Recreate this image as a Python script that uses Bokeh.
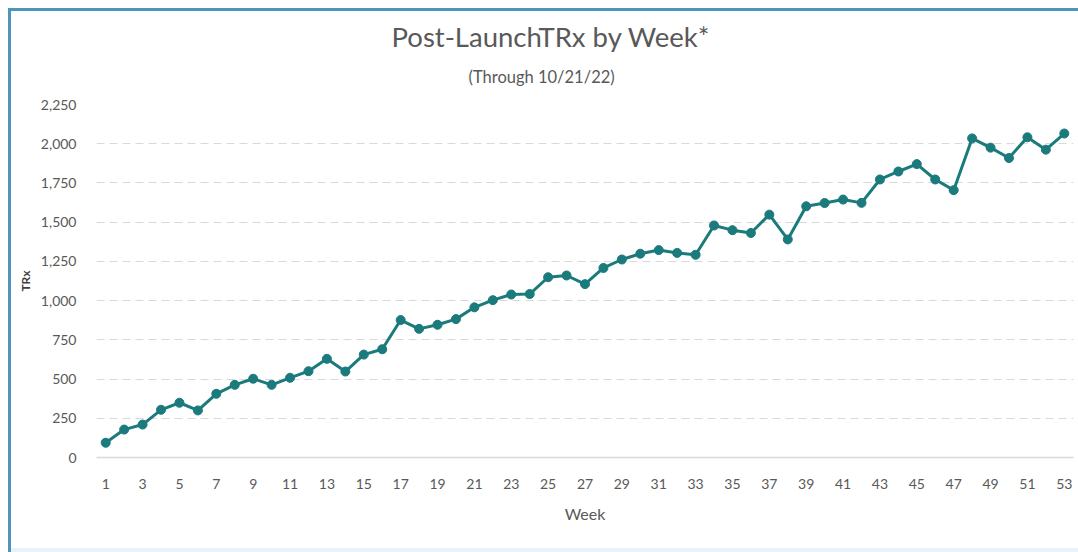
from bokeh.plotting import figure
from bokeh.models import FixedTicker, NumeralTickFormatter, Range1d, Title
from bokeh.embed import file_html
from bokeh.resources import INLINE

# ---- data ----
weeks = list(range(1, 54))
trx = [94, 178, 210, 304, 349, 300, 406, 463, 502, 463,
       508, 550, 629, 548, 656, 690, 876, 820, 846, 882,
       957, 1003, 1039, 1042, 1149, 1160, 1105, 1208, 1262, 1299,
       1322, 1304, 1292, 1479, 1449, 1431, 1548, 1390, 1601, 1622,
       1644, 1623, 1772, 1823, 1870, 1772, 1704, 2034, 1975, 1909,
       2041, 1962, 2065]
x_tick_weeks = weeks[::2]
y_ticks = [0, 250, 500, 750, 1000, 1250, 1500, 1750, 2000, 2250]
title_text = "Post-LaunchTRx by Week*"
subtitle_text = "(Through 10/21/22)"
x_label = "Week"
y_label = "TRx"

FONT = "Lato"
TEAL = "#1b7a7c"
GRAY = "#595959"
BORDER = "#4d96b9"

p = figure(width=1078, height=552, output_backend="svg", toolbar_location=None,
           x_range=Range1d(0.5, 53.5), y_range=Range1d(0, 2250))
p.min_border_left = 96
p.min_border_right = 5
p.min_border_top = 104
p.min_border_bottom = 95
p.outline_line_color = None
p.background_fill_color = "white"
p.border_fill_color = None
p.styles = {
    "background-color": "white",
    "background-image": ("linear-gradient(%s,%s), linear-gradient(%s,%s), "
                         "linear-gradient(#e6f3f8,#e6f3f8)") % (BORDER, BORDER, BORDER, BORDER),
    "background-size": "3px 552px, 1078px 3px, 1078px 4px",
    "background-position": "8px 8px, 8px 8px, 11px 548px",
    "background-repeat": "no-repeat",
}

p.line(weeks, trx, line_color=TEAL, line_width=3)
p.scatter(weeks, trx, size=9, fill_color=TEAL, line_color=TEAL)

# axes
p.xaxis.ticker = FixedTicker(ticks=x_tick_weeks)
p.yaxis.ticker = FixedTicker(ticks=y_ticks)
p.yaxis.formatter = NumeralTickFormatter(format="0,0")
for ax in (p.xaxis, p.yaxis):
    ax.major_tick_line_color = None
    ax.minor_tick_line_color = None
    ax.major_label_text_font = FONT
    ax.major_label_text_font_size = "14px"
    ax.major_label_text_color = GRAY
    ax.axis_label_text_font = FONT
    ax.axis_label_text_font_style = "normal"
p.xaxis.axis_line_color = "#d9d9d9"
p.xaxis.axis_line_width = 1.5
p.yaxis.axis_line_color = None
p.xaxis.major_label_standoff = 15
p.yaxis.major_label_standoff = 14
p.xaxis.axis_label = x_label
p.xaxis.axis_label_text_font_size = "16px"
p.xaxis.axis_label_text_color = GRAY
p.xaxis.axis_label_standoff = 12
p.yaxis.axis_label = y_label
p.yaxis.axis_label_text_font_size = "12px"
p.yaxis.axis_label_text_font_style = "bold"
p.yaxis.axis_label_text_color = "#404040"
p.yaxis.axis_label_standoff = 5

p.xgrid.grid_line_color = None
p.ygrid.grid_line_color = "#d9d9d9"
p.ygrid.grid_line_dash = "8 5"
p.ygrid.grid_line_width = 1

# titles (added bottom-most first: subtitle sits directly above the frame)
p.add_layout(Title(text=subtitle_text, align="left", offset=372,
                   text_font=FONT, text_font_size="16.5px", text_color=GRAY,
                   text_font_style="normal", standoff=36), "above")
p.add_layout(Title(text=title_text, align="left", offset=295,
                   text_font=FONT, text_font_size="27.5px", text_color=GRAY,
                   text_font_style="normal", standoff=-12), "above")

open("out.html", "w").write(file_html(p, INLINE))
